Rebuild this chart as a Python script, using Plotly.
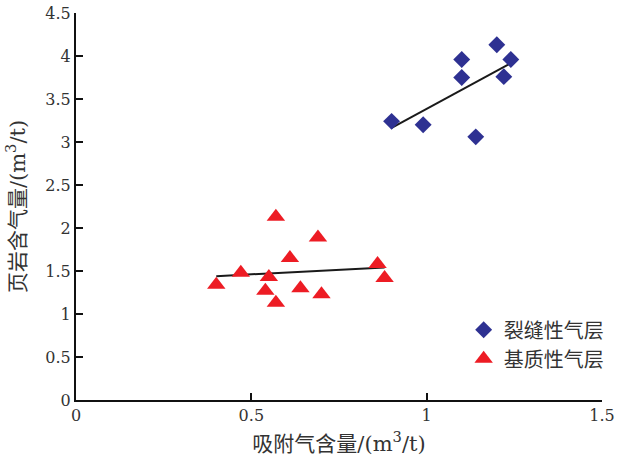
import numpy as np
import plotly.graph_objects as go

# Fractured gas layer samples (adsorbed gas vs shale gas content, m3/t)
fractured_x = [0.90, 0.99, 1.14, 1.10, 1.10, 1.20, 1.24, 1.22]
fractured_y = [3.24, 3.20, 3.06, 3.75, 3.96, 4.13, 3.96, 3.76]

# Matrix gas layer samples
matrix_x = [0.57, 0.69, 0.61, 0.47, 0.40, 0.55, 0.54, 0.57, 0.64, 0.70, 0.86, 0.88]
matrix_y = [2.13, 1.89, 1.65, 1.48, 1.34, 1.43, 1.27, 1.13, 1.30, 1.23, 1.58, 1.42]

series_names = ["裂缝性气层", "基质性气层"]
x_title = "吸附气含量/(m<sup>3</sup>/t)"
y_title = "页岩含气量/(m<sup>3</sup>/t)"
x_range = [0, 1.5]
y_range = [0, 4.5]
tick_step = 0.5

SERIF = "DejaVu Serif"
MIX_FONT = "DejaVu Serif, Noto Sans CJK SC"
BLUE = "#2e3192"
RED = "#ed1c24"
TEXT = "#333333"


def trend(xs, ys):
    """Least-squares line across the sample's x range."""
    k, b = np.polyfit(xs, ys, 1)
    xr = np.array([min(xs), max(xs)])
    return xr, k * xr + b


fig = go.Figure()

fx, fy = trend(fractured_x, fractured_y)
mx, my = trend(matrix_x, matrix_y)

fig.add_trace(go.Scatter(x=fx, y=fy, mode="lines", line=dict(color="#1a1a1a", width=2),
                         showlegend=False, hoverinfo="skip"))
fig.add_trace(go.Scatter(x=mx, y=my, mode="lines", line=dict(color="#1a1a1a", width=2),
                         showlegend=False, hoverinfo="skip"))

fig.add_trace(go.Scatter(x=fractured_x, y=fractured_y, mode="markers", name=series_names[0],
                         marker=dict(symbol="diamond", size=13, color=BLUE)))
fig.add_trace(go.Scatter(x=matrix_x, y=matrix_y, mode="markers", name=series_names[1],
                         marker=dict(symbol="triangle-up", size=16, color=RED)))

fig.update_layout(
    width=621, height=457,
    margin=dict(l=76, r=14, t=13, b=57),
    paper_bgcolor="white", plot_bgcolor="white",
    font=dict(family=MIX_FONT, size=16, color=TEXT),
    legend=dict(x=0.737, y=0.232, xanchor="left", yanchor="top",
                bgcolor="rgba(0,0,0,0)", itemwidth=30, tracegroupgap=0,
                font=dict(family=MIX_FONT, size=20, color=TEXT)),
    xaxis=dict(
        range=x_range, tick0=0, dtick=tick_step,
        showgrid=False, zeroline=False, showline=True, linecolor="#111",
        linewidth=2, ticks="inside", ticklen=7, tickwidth=2, tickcolor="#111",
        automargin=False,
        tickfont=dict(family=SERIF, size=16, color=TEXT),
        title=dict(text=x_title, standoff=12, font=dict(family=MIX_FONT, size=21, color=TEXT)),
    ),
    yaxis=dict(
        range=y_range, tick0=0, dtick=tick_step,
        showgrid=False, zeroline=False, showline=True, linecolor="#111",
        linewidth=2, ticks="inside", ticklen=7, tickwidth=2, tickcolor="#111",
        automargin=False,
        tickfont=dict(family=SERIF, size=16, color=TEXT),
        title=dict(text=y_title, standoff=14, font=dict(family=MIX_FONT, size=21, color=TEXT)),
    ),
)

fig.write_html("out.html")
